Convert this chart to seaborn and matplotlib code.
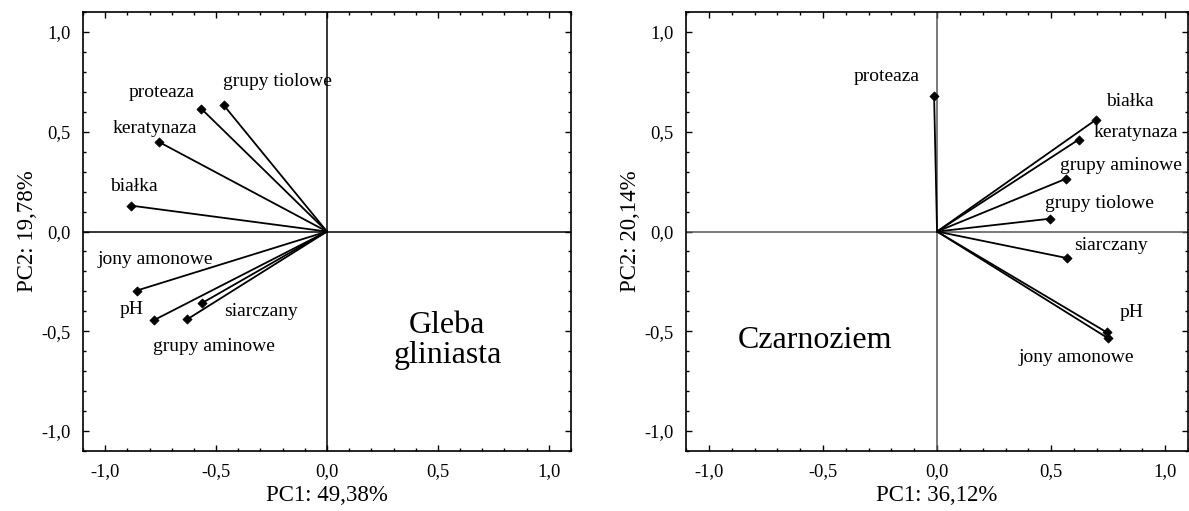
import numpy as np
import pandas as pd
import matplotlib
matplotlib.use("Agg")
import matplotlib.pyplot as plt
from matplotlib.ticker import MultipleLocator, AutoMinorLocator, FuncFormatter
import seaborn as sns

# Loadings of the variables on PC1 / PC2 for the two soils
variables_clay = ["proteaza", "grupy tiolowe", "keratynaza", "białka",
                  "jony amonowe", "pH", "grupy aminowe", "siarczany"]
pc1_clay = [-0.567, -0.466, -0.756, -0.884, -0.858, -0.778, -0.630, -0.564]
pc2_clay = [0.616, 0.634, 0.448, 0.130, -0.296, -0.443, -0.440, -0.359]

variables_chern = ["proteaza", "białka", "keratynaza", "grupy aminowe",
                   "grupy tiolowe", "siarczany", "pH", "jony amonowe"]
pc1_chern = [-0.013, 0.697, 0.621, 0.566, 0.493, 0.569, 0.745, 0.748]
pc2_chern = [0.681, 0.561, 0.461, 0.265, 0.064, -0.133, -0.506, -0.534]

axis_labels_clay = ("PC1: 49,38%", "PC2: 19,78%")
axis_labels_chern = ("PC1: 36,12%", "PC2: 20,14%")
titles = ("Gleba\ngliniasta", "Czarnoziem")

# Label placement (data coordinates) for each variable name
label_pos_clay = {
    "grupy tiolowe": (-0.222, 0.753), "proteaza": (-0.747, 0.697),
    "keratynaza": (-0.778, 0.517), "białka": (-0.869, 0.225),
    "jony amonowe": (-0.774, -0.142), "pH": (-0.882, -0.393),
    "siarczany": (-0.299, -0.403), "grupy aminowe": (-0.511, -0.574),
}
label_pos_chern = {
    "proteaza": (-0.223, 0.777), "białka": (0.847, 0.652),
    "keratynaza": (0.873, 0.496), "grupy aminowe": (0.808, 0.331),
    "grupy tiolowe": (0.712, 0.140), "siarczany": (0.764, -0.070),
    "pH": (0.852, -0.406), "jony amonowe": (0.611, -0.632),
}

sns.set_theme(style="ticks")
plt.rcParams["font.family"] = ["Liberation Serif", "DejaVu Serif"]
plt.rcParams["axes.unicode_minus"] = False
plt.rcParams["text.color"] = "black"
plt.rcParams["axes.labelcolor"] = "black"
plt.rcParams["xtick.color"] = "black"
plt.rcParams["ytick.color"] = "black"

fig = plt.figure(figsize=(11.89, 5.11), dpi=100)
ax1 = fig.add_axes([0.0698, 0.1174, 0.4104, 0.859])
ax2 = fig.add_axes([0.5770, 0.1174, 0.4222, 0.859])

comma = FuncFormatter(lambda v, pos: f"{v:.1f}".replace(".", ","))


def vectors_frame(names, xs, ys):
    rows = []
    for n, x, y in zip(names, xs, ys):
        rows.append({"var": n, "x": 0.0, "y": 0.0})
        rows.append({"var": n, "x": x, "y": y})
    return pd.DataFrame(rows)


def draw_panel(ax, names, xs, ys, label_pos, labels, title, title_xy, zero_color):
    ax.axhline(0, color=zero_color, lw=1.1, zorder=1)
    ax.axvline(0, color=zero_color, lw=1.1, zorder=1)
    df = vectors_frame(names, xs, ys)
    sns.lineplot(data=df, x="x", y="y", units="var", estimator=None,
                 sort=False, color="black", lw=1.3, ax=ax, zorder=2)
    pts = pd.DataFrame({"var": names, "x": xs, "y": ys})
    sns.scatterplot(data=pts, x="x", y="y", marker="D", s=22, color="black",
                    edgecolor="black", linewidth=0.5, ax=ax, zorder=3)
    for n in names:
        tx, ty = label_pos[n]
        ax.text(tx, ty, n, fontsize=14, ha="center", va="center", color="black")
    ax.text(title_xy[0], title_xy[1], title, fontsize=23, ha="center",
            va="center", linespacing=1.05, color="black")
    ax.set_xlim(-1.1, 1.1)
    ax.set_ylim(-1.1, 1.1)
    ax.xaxis.set_major_locator(MultipleLocator(0.5))
    ax.yaxis.set_major_locator(MultipleLocator(0.5))
    ax.xaxis.set_minor_locator(AutoMinorLocator(5))
    ax.yaxis.set_minor_locator(AutoMinorLocator(5))
    ax.xaxis.set_major_formatter(comma)
    ax.yaxis.set_major_formatter(comma)
    ax.tick_params(which="both", direction="in", top=True, right=True,
                   colors="black", width=1.0)
    ax.tick_params(which="major", length=4, labelsize=13.3, pad=9)
    ax.tick_params(which="minor", length=2)
    ax.set_xlabel(labels[0], fontsize=16.5, labelpad=3)
    ax.set_ylabel(labels[1], fontsize=16.5, labelpad=2)
    for sp in ax.spines.values():
        sp.set_color("black")
        sp.set_linewidth(1.2)


draw_panel(ax1, variables_clay, pc1_clay, pc2_clay, label_pos_clay,
           axis_labels_clay, titles[0], (0.543, -0.544), "black")
draw_panel(ax2, variables_chern, pc1_chern, pc2_chern, label_pos_chern,
           axis_labels_chern, titles[1], (-0.533, -0.546), "#555555")

fig.savefig("out.png", dpi=100)
